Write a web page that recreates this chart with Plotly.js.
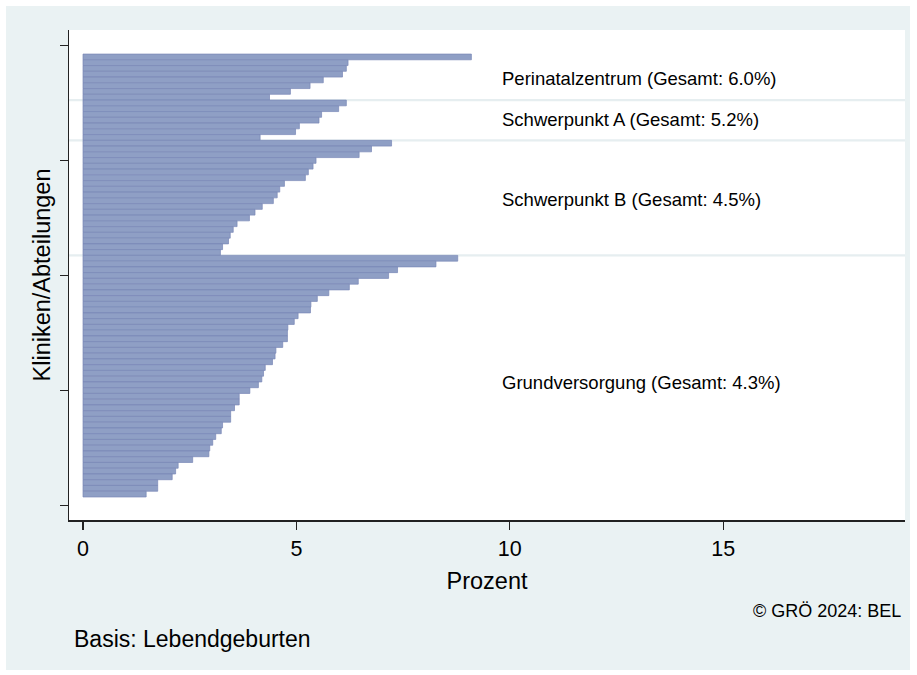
<!DOCTYPE html>
<html>
<head>
<meta charset="utf-8">
<script src="https://cdn.plot.ly/plotly-3.0.1.min.js"></script>
<style>
  html, body { margin: 0; padding: 0; background: #ffffff; }
  #chart { position: absolute; left: 6px; top: 6px; width: 904px; height: 664px; }
</style>
</head>
<body>
<div id="chart"></div>
<script>
// ---- Data ----
const groupNames = ['Perinatalzentrum', 'Schwerpunkt A', 'Schwerpunkt B', 'Grundversorgung'];
const groupTotals = [6.0, 5.2, 4.5, 4.3];

const perinatal = [9.10, 6.21, 6.17, 6.08, 5.63, 5.32, 4.86, 4.37];
const schwerpunktA = [6.17, 5.99, 5.59, 5.53, 5.07, 4.98, 4.15];
const schwerpunktB = [7.23, 6.76, 6.47, 5.46, 5.39, 5.28, 5.21, 4.72, 4.61, 4.55,
                      4.46, 4.20, 4.03, 3.90, 3.61, 3.52, 3.45, 3.41, 3.27, 3.22];
const grundversorgung = [8.78, 8.27, 7.37, 7.16, 6.45, 6.24, 5.76, 5.49, 5.34, 5.33,
                         5.04, 4.95, 4.80, 4.79, 4.79, 4.68, 4.52, 4.50, 4.44, 4.27,
                         4.23, 4.19, 4.11, 3.91, 3.66, 3.66, 3.55, 3.46, 3.46, 3.27,
                         3.24, 3.11, 3.04, 2.97, 2.95, 2.57, 2.23, 2.17, 2.09, 1.75,
                         1.75, 1.48];

const xTickVals = [0, 5, 10, 15];
const yTickVals = [0, 20, 40, 60, 80];
const xTitle = 'Prozent';
const yTitle = 'Kliniken/Abteilungen';
const noteText = 'Basis: Lebendgeburten';
const creditText = '\u00A9 GR\u00D6 2024: BEL';

// ---- Build traces ----
const groups = [perinatal, schwerpunktA, schwerpunktB, grundversorgung];
const FONT = 'Liberation Sans, Arial, Helvetica, sans-serif';
const totalBars = groups.reduce((s, g) => s + g.length, 0); // 77
let k = 0;
const traces = [];
const groupBounds = [];
groups.forEach((vals, gi) => {
  const ys = vals.map((v, i) => totalBars + 1 - (k + i)); // top bar highest
  groupBounds.push([k, k + vals.length - 1]);
  k += vals.length;
  traces.push({
    type: 'bar',
    orientation: 'h',
    x: vals,
    y: ys,
    width: 1,
    name: groupNames[gi],
    marker: { color: '#8f9fc5', line: { color: '#7887b6', width: 0.7 } },
    hoverinfo: 'x',
    showlegend: false
  });
});

// separators between groups
const shapes = [];
for (let g = 0; g < groupBounds.length - 1; g++) {
  const yb = totalBars + 1 - (groupBounds[g][1] + 0.5);
  shapes.push({
    type: 'line', xref: 'paper', yref: 'y', x0: 0, x1: 1, y0: yb, y1: yb,
    line: { color: '#e6eef0', width: 2.2 }, layer: 'below'
  });
}

const labelY = [74.2, 67.2, 53.3, 21.4];
const annotations = groupNames.map((n, gi) => ({
  xref: 'x', yref: 'y', x: 9.76, y: labelY[gi],
  xanchor: 'left', yanchor: 'middle', showarrow: false,
  text: n + ' (Gesamt: ' + groupTotals[gi].toFixed(1) + '%)',
  font: { family: FONT, size: 18.5, color: '#000' }
}));
annotations.push({
  xref: 'paper', yref: 'paper', x: 0.9976, y: -0.1857,
  xanchor: 'right', yanchor: 'middle', showarrow: false,
  text: creditText, font: { family: FONT, size: 18, color: '#000' }
});
annotations.push({
  xref: 'paper', yref: 'paper', x: 0.0036, y: -0.2428,
  xanchor: 'left', yanchor: 'middle', showarrow: false,
  text: noteText, font: { family: FONT, size: 23, color: '#000' }
});

const layout = {
  width: 904, height: 664,
  margin: { l: 63, r: 5, t: 24, b: 150, pad: 0 },
  paper_bgcolor: '#eaf2f3',
  plot_bgcolor: '#ffffff',
  bargap: 0,
  showlegend: false,
  font: { family: FONT, color: '#000' },
  xaxis: {
    range: [-0.328, 19.26],
    tickvals: xTickVals, ticktext: xTickVals.map(String),
    ticks: 'outside', ticklen: 8, tickwidth: 1.3, tickcolor: '#222',
    showline: true, linecolor: '#222', linewidth: 1.5,
    showgrid: false, zeroline: false,
    tickfont: { family: FONT, size: 21.5, color: '#000' },
    ticklabelstandoff: 1,
    title: { text: xTitle, font: { family: FONT, size: 23.5, color: '#000' }, standoff: 12 },
    automargin: false, fixedrange: true
  },
  yaxis: {
    range: [-2.5, 82.68],
    tickvals: yTickVals, showticklabels: false,
    ticks: 'outside', ticklen: 8, tickwidth: 1.3, tickcolor: '#222',
    showline: true, linecolor: '#222', linewidth: 1.5,
    showgrid: false, zeroline: false,
    title: { text: yTitle, font: { family: FONT, size: 23.5, color: '#000' }, standoff: 2 },
    automargin: false, fixedrange: true
  },
  shapes: shapes,
  annotations: annotations
};

Plotly.newPlot('chart', traces, layout, { displayModeBar: false, staticPlot: true });
</script>
</body>
</html>
